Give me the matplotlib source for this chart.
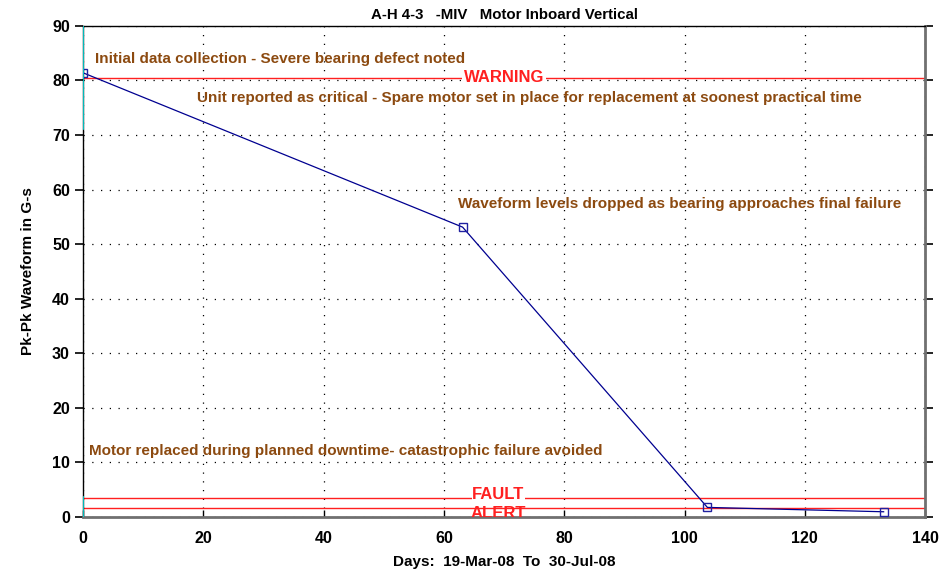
import numpy as np
import matplotlib
matplotlib.use("Agg")
import matplotlib.pyplot as plt

plt.rcParams['font.family'] = ['Liberation Sans', 'DejaVu Sans']

# readings
days = [0, 63.1, 103.8, 133.1]
pkpk = [81.4, 53.1, 1.7, 0.9]

# alarm levels
warning_level = 80.5
fault_level = 3.5
alert_level = 1.6

notes = [
    (2, 84.0, "Initial data collection - Severe bearing defect noted"),
    (19, 76.8, "Unit reported as critical - Spare motor set in place for replacement at soonest practical time"),
    (62.3, 57.3, "Waveform levels dropped as bearing approaches final failure"),
    (1, 12.0, "Motor replaced during planned downtime- catastrophic failure avoided"),
]

brown = "#8c4a10"
red = "#ff2020"

fig, ax = plt.subplots(figsize=(9.44, 5.76), dpi=100)
fig.subplots_adjust(left=0.088, right=0.980, top=0.955, bottom=0.103)

ax.set_xlim(0, 140)
ax.set_ylim(0, 90)
ax.set_xticks(np.arange(0, 141, 20))
ax.set_yticks(np.arange(0, 91, 10))

ax.grid(True, color="black", linestyle=(0, (1, 6)), linewidth=0.9)

ax.axhline(warning_level, color=red, lw=1.0, zorder=2)
ax.axhline(fault_level, color=red, lw=1.0, zorder=2)
ax.axhline(alert_level, color=red, lw=1.0, zorder=2)

ax.plot(days, pkpk, color="#000090", lw=0.9, marker="s", markersize=6,
        markerfacecolor="none", markeredgecolor="#2020a0", markeredgewidth=1.0, zorder=4)

ax.text(70, warning_level, "WARNING", color=red, fontsize=12, fontweight="bold",
        ha="center", va="center", zorder=3,
        bbox=dict(facecolor="white", edgecolor="none", pad=1.5))
ax.text(69, 0.5, "ALERT", color=red, fontsize=12, fontweight="bold",
        ha="center", va="center", zorder=3, clip_on=True)
ax.text(69, fault_level + 0.5, "FAULT", color=red, fontsize=12, fontweight="bold",
        ha="center", va="center", zorder=3,
        bbox=dict(facecolor="white", edgecolor="none", pad=0.3))

for x, y, s in notes:
    ax.text(x, y, s, color=brown, fontsize=11, fontweight="bold", ha="left", va="center", zorder=5)

ax.axvline(0, ymin=0.79, ymax=1.0, color="#00e0e0", lw=1.2, zorder=6)
ax.axvline(0, ymin=0.0, ymax=0.04, color="#00e0e0", lw=1.2, zorder=6)

for side in ["left", "top"]:
    ax.spines[side].set_color("black")
    ax.spines[side].set_linewidth(1.0)
for side in ["right", "bottom"]:
    ax.spines[side].set_color("#707070")
    ax.spines[side].set_linewidth(2.0)

ax.tick_params(axis="y", direction="out", length=6, width=1.2, right=True, labelsize=11.5)
ax.tick_params(axis="x", direction="in", length=5, width=1.0, labelsize=11.5, pad=10)
for lab in ax.get_xticklabels() + ax.get_yticklabels():
    lab.set_fontweight("bold")

ax.set_title("A-H 4-3   -MIV   Motor Inboard Vertical", fontsize=10.8, fontweight="bold", pad=5)
ax.set_xlabel("Days:  19-Mar-08  To  30-Jul-08", fontsize=11, fontweight="bold", labelpad=7)
ax.set_ylabel("Pk-Pk Waveform in G-s", fontsize=11, fontweight="bold", labelpad=12)

plt.savefig("out.png", dpi=100)
